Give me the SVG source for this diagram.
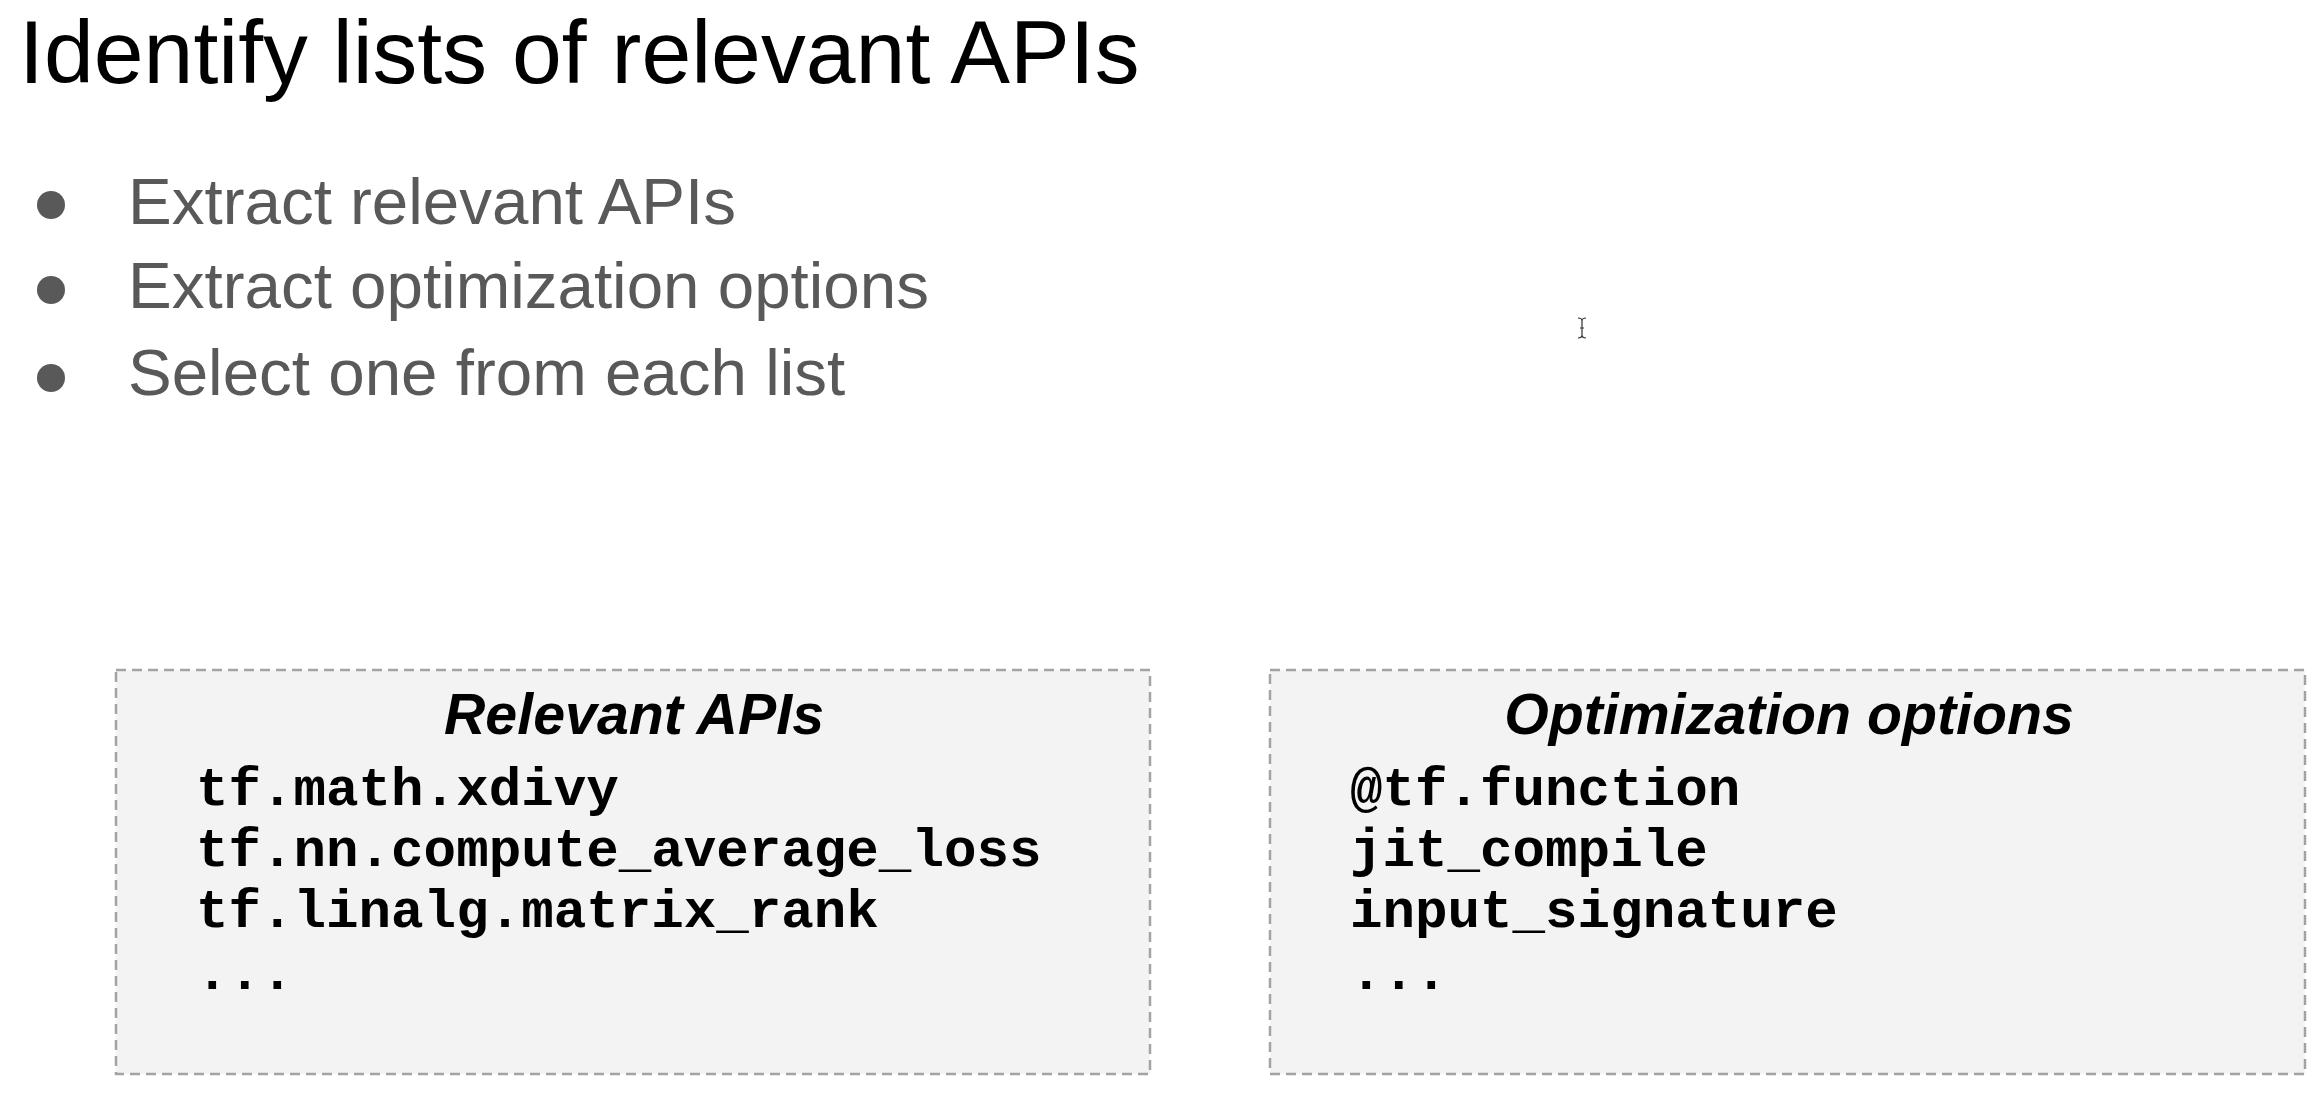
<svg xmlns="http://www.w3.org/2000/svg" width="2324" height="1102" viewBox="0 0 2324 1102">
<style>
.title{font-family:"Liberation Sans",Arial,sans-serif;font-size:89.6px;fill:#000}
.bul{font-family:"Liberation Sans",Arial,sans-serif;font-size:65.5px;fill:#595959}
.dot{fill:#595959}
.box{fill:#f3f3f3;stroke:#a3a3a3;stroke-width:2.5;stroke-dasharray:10 6}
.hdr{font-family:"Liberation Sans",Arial,sans-serif;font-size:57.3px;font-weight:bold;font-style:italic;fill:#000;text-anchor:middle}
.code{font-family:"Liberation Mono","Courier New",monospace;font-size:54.2px;font-weight:bold;fill:#000}
</style>
<rect width="2324" height="1102" fill="#fff"/>
<text class="title" x="19" y="83">Identify lists of relevant APIs</text>
<g id="bullets">
<circle class="dot" cx="51" cy="205" r="14"/>
<circle class="dot" cx="51" cy="290" r="14"/>
<circle class="dot" cx="51" cy="378" r="14"/>
<text class="bul" x="128" y="224">Extract relevant APIs</text>
<text class="bul" x="128" y="308">Extract optimization options</text>
<text class="bul" x="128" y="395">Select one from each list</text>
</g>
<g id="node-relevant-apis">
<rect class="box" x="116" y="670" width="1034" height="404"/>
<text class="hdr" x="634" y="734">Relevant APIs</text>
<text class="code" x="196" y="805">tf.math.xdivy</text>
<text class="code" x="196" y="866">tf.nn.compute_average_loss</text>
<text class="code" x="196" y="927">tf.linalg.matrix_rank</text>
<text class="code" x="196" y="989">...</text>
</g>
<g id="node-optimization-options">
<rect class="box" x="1270" y="670" width="1035" height="404"/>
<text class="hdr" x="1789" y="734">Optimization options</text>
<text class="code" x="1350" y="805">@tf.function</text>
<text class="code" x="1350" y="866">jit_compile</text>
<text class="code" x="1350" y="927">input_signature</text>
<text class="code" x="1350" y="989">...</text>
</g>
<g id="connectors"></g>
<path d="M1578 318 Q1582 318 1582 321 Q1582 318 1586 318 M1582 321 V335 M1578 338 Q1582 338 1582 335 Q1582 338 1586 338 M1580 328 H1584" fill="none" stroke="#333" stroke-width="1.2"/>
</svg>
